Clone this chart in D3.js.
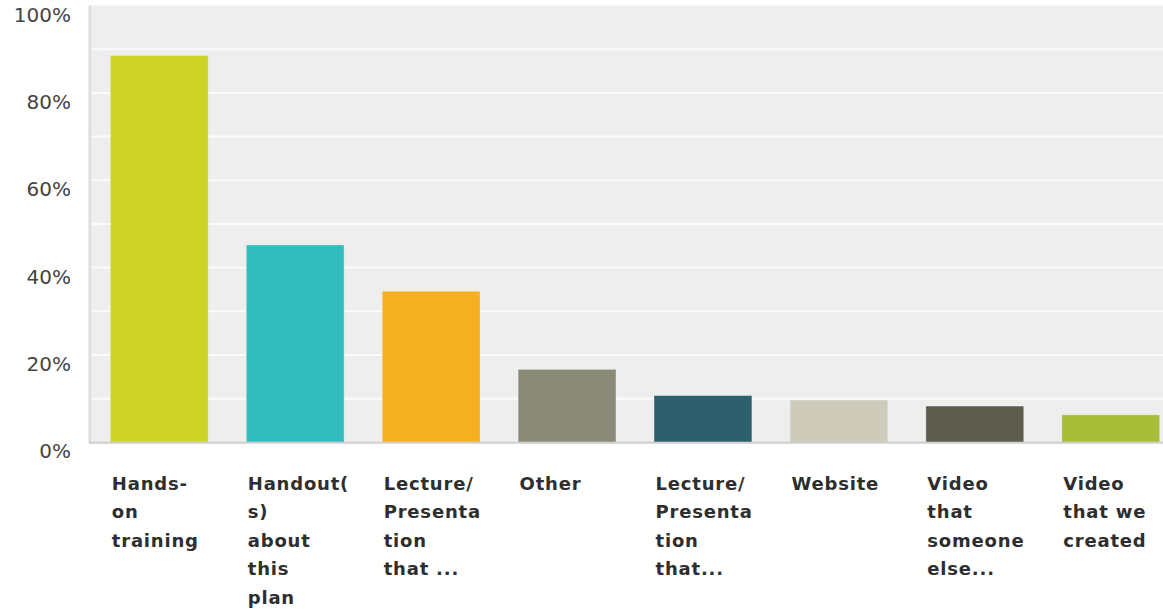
<!DOCTYPE html>
<html>
<head>
<meta charset="utf-8">
<script src="https://cdn.jsdelivr.net/npm/d3@7"></script>
<style>
  html, body { margin: 0; padding: 0; background: #ffffff; }
  svg { display: block; }
</style>
</head>
<body>
<svg id="chart" width="1163" height="610"></svg>
<script>
const categories = [
  "Hands-on training",
  "Handout(s) about this plan",
  "Lecture/Presentation that ...",
  "Other",
  "Lecture/Presentation that...",
  "Website",
  "Video that someone else...",
  "Video that we created"
];
const labelLines = [
  ["Hands-", "on", "training"],
  ["Handout(", "s)", "about", "this", "plan"],
  ["Lecture/", "Presenta", "tion", "that ..."],
  ["Other"],
  ["Lecture/", "Presenta", "tion", "that..."],
  ["Website"],
  ["Video", "that", "someone", "else..."],
  ["Video", "that we", "created"]
];
const values = [0.886, 0.452, 0.346, 0.167, 0.107, 0.097, 0.083, 0.063];
const colors = ["#cdd427", "#33bcbe", "#f5b01f", "#898a78", "#2e5f6d", "#cecbbb", "#5c5b4c", "#a8bd38"];
const tickValues = [0, 0.2, 0.4, 0.6, 0.8, 1.0];
const gridValues = [0.1, 0.2, 0.3, 0.4, 0.5, 0.6, 0.7, 0.8, 0.9];

const W = 1163, H = 610;
const plot = { left: 92, right: 1178, top: 5.6, bottom: 442.3 };

const svg = d3.select("#chart");

const x = d3.scaleBand()
  .domain(categories)
  .range([plot.left, plot.right])
  .paddingInner(0.28)
  .paddingOuter(0.135);

const y = d3.scaleLinear()
  .domain([0, 1])
  .range([plot.bottom, plot.top]);

// background
svg.append("rect")
  .attr("x", plot.left)
  .attr("y", plot.top)
  .attr("width", W - plot.left)
  .attr("height", plot.bottom - plot.top)
  .attr("fill", "#eeeeee");

// gridlines
svg.append("g")
  .selectAll("line")
  .data(gridValues)
  .join("line")
  .attr("x1", plot.left)
  .attr("x2", W)
  .attr("y1", d => y(d))
  .attr("y2", d => y(d))
  .attr("stroke", "#fbfbfb")
  .attr("stroke-width", 2);

// left axis strip
svg.append("line")
  .attr("x1", 90).attr("x2", 90)
  .attr("y1", plot.top).attr("y2", plot.bottom + 1)
  .attr("stroke", "#dcdcdc")
  .attr("stroke-width", 3);

// bars
svg.append("g")
  .selectAll("rect")
  .data(values)
  .join("rect")
  .attr("x", (d, i) => x(categories[i]))
  .attr("y", d => y(d))
  .attr("width", x.bandwidth())
  .attr("height", d => y(0) - y(d))
  .attr("fill", (d, i) => colors[i])
  .attr("stroke", "rgba(255,255,255,0.35)")
  .attr("stroke-width", 1);

// bottom axis line
svg.append("line")
  .attr("x1", 89).attr("x2", W)
  .attr("y1", plot.bottom + 0.5).attr("y2", plot.bottom + 0.5)
  .attr("stroke", "#cfcfcf")
  .attr("stroke-width", 2);

// y axis via d3 axis
const yAxis = d3.axisLeft(y)
  .tickValues(tickValues)
  .tickFormat(d => Math.round(d * 100) + "%")
  .tickSize(0)
  .tickPadding(0);

const gy = svg.append("g")
  .attr("transform", "translate(71,9)")
  .call(yAxis);
gy.select(".domain").remove();
gy.selectAll("text")
  .attr("font-family", "'DejaVu Sans', Verdana, sans-serif")
  .attr("font-size", 20)
  .attr("fill", "#444444");

// x labels
const xl = svg.append("g");
categories.forEach((c, i) => {
  const t = xl.append("text")
    .attr("x", x(c) + 1.5)
    .attr("y", 490)
    .attr("font-family", "'DejaVu Sans', Verdana, sans-serif")
    .attr("font-weight", "bold")
    .attr("font-size", 18)
    .attr("letter-spacing", "0.8px")
    .attr("fill", "#2e2e2e");
  labelLines[i].forEach((ln, j) => {
    t.append("tspan")
      .attr("x", x(c) + 1.5)
      .attr("dy", j === 0 ? 0 : 28.4)
      .text(ln);
  });
});
</script>
</body>
</html>
